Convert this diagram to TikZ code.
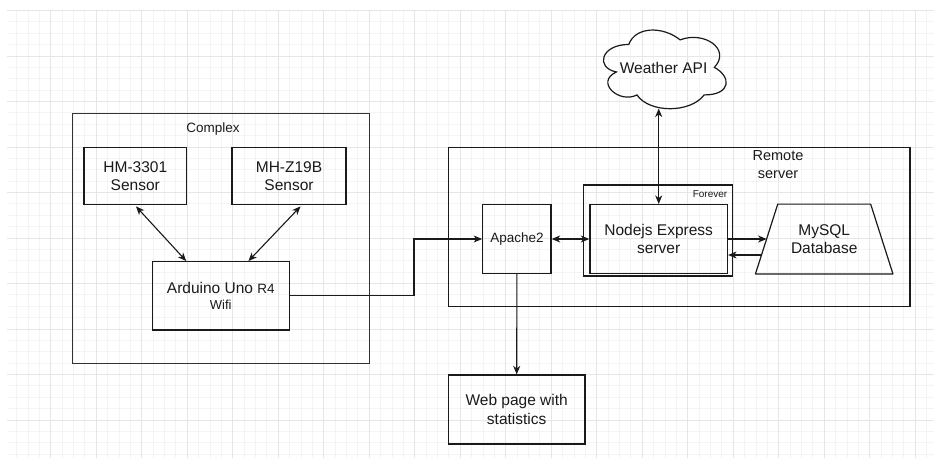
\documentclass[tikz,border=0pt]{standalone}
\usepackage{fontspec}
\setmainfont{Liberation Sans}
\usetikzlibrary{arrows.meta,calc}
\definecolor{ink}{HTML}{1A1A1A}
\definecolor{gminor}{HTML}{F4F4F4}
\definecolor{gmajor}{HTML}{E6E6E6}
\tikzset{
  box/.style={draw=ink,line width=1.2pt,rectangle,inner sep=0pt,align=center,text=ink,
    font=\fontsize{15.5}{18.5}\selectfont},
  txt/.style={box,draw=none},
  lbl/.style={inner sep=0pt,align=center,text=ink},
  conn/.style={draw=ink,line width=1.1pt},
  tip/.style={-{Stealth[length=8.5pt,width=7pt,inset=2.5pt]}},
  tips/.style={{Stealth[length=8.5pt,width=7pt,inset=2.5pt]}-{Stealth[length=8.5pt,width=7pt,inset=2.5pt]}},
}
\begin{document}
\begin{tikzpicture}[x=1pt,y=-1pt]
\useasboundingbox (0,0) rectangle (934,458);
\fill[white] (0,0) rectangle (934,458);
% grid
\begin{scope}
\clip (7,10) rectangle (934,458);
\foreach \k in {-4,...,78} \draw[gminor,line width=0.8pt] ({50.7+11.375*\k},0) -- ({50.7+11.375*\k},458);
\foreach \k in {0,...,40} \draw[gminor,line width=0.8pt] (0,{10.5+11.375*\k}) -- (934,{10.5+11.375*\k});
\foreach \k in {-1,...,20} \draw[gmajor,line width=0.8pt] ({50.7+45.5*\k},0) -- ({50.7+45.5*\k},458);
\foreach \k in {0,...,10} \draw[gmajor,line width=0.8pt] (0,{10.5+45.5*\k}) -- (934,{10.5+45.5*\k});
\end{scope}

% containers
\node[box,draw=black!80,line width=1.4pt,minimum width=296.6pt,minimum height=250pt] (complex) at (221,238.3) {};
\node[lbl,font=\fontsize{13.5}{16}\selectfont] (complexlbl) at (213,129) {Complex};
\node[box,minimum width=461.7pt,minimum height=159pt] (remote) at (679.2,227.2) {};
\node[lbl,font=\fontsize{14.5}{17.3}\selectfont] (remotelbl) at (778,164.5) {Remote\\server};

% complex content
\node[box,minimum width=102.7pt,minimum height=56.6pt] (hm) at (135.3,176) {HM-3301\\Sensor};
\node[box,minimum width=114pt,minimum height=56.6pt] (mh) at (289,176) {MH-Z19B\\Sensor};
\node[box,minimum width=137pt,minimum height=68.3pt] (ard) at (220.8,295.8)
  {Arduino Uno {\fontsize{13.5}{16}\selectfont R4}\\[-2pt]{\fontsize{13}{16}\selectfont Wifi}};

% remote content
\node[box,minimum width=68.3pt,minimum height=68.6pt,font=\fontsize{13.5}{16}\selectfont] (apache) at (516.9,239) {Apache2};
\node[box,minimum width=148.6pt,minimum height=91pt] (forever) at (658,230.5) {};
\node[lbl,font=\fontsize{10}{12}\selectfont] (foreverlbl) at (710,194) {Forever};
\node[box,line width=1.5pt,minimum width=137.3pt,minimum height=68.6pt] (nodejs) at (658.7,239) {Nodejs Express\\server};
\node[txt,minimum width=136.3pt,minimum height=68.6pt] (mysql) at (824.2,239) {MySQL\\Database};
\draw[ink,line width=1.2pt,line join=round] ($(mysql.north west)+(22.3,0)$) -- ($(mysql.north east)+(-22.3,0)$)
  -- (mysql.south east) -- (mysql.south west) -- cycle;

% external
\node[txt,minimum width=137pt,minimum height=91.8pt] (cloud) at (663.6,68) {Weather API};
\begin{scope}[shift={(cloud.north west)},x=137pt,y=-91.8pt]
\draw[ink,line width=1.2pt] (0.25,0.25) .. controls (0.05,0.25) and (0,0.5) .. (0.16,0.55)
  .. controls (0,0.66) and (0.18,0.9) .. (0.31,0.8)
  .. controls (0.4,1) and (0.7,1) .. (0.8,0.8)
  .. controls (1,0.8) and (1,0.6) .. (0.875,0.5)
  .. controls (1,0.3) and (0.8,0.1) .. (0.625,0.2)
  .. controls (0.5,0.05) and (0.3,0.05) .. (0.25,0.25) -- cycle;
\end{scope}
\coordinate (cloudbot) at ($(cloud.north west)+(63.9,87)$);
\node[box,minimum width=136.7pt,minimum height=69pt] (web) at (516.7,409.5) {Web page with\\statistics};

% connectors
\draw[conn,tips] ($(hm.south west)!0.5!(hm.south east)+(0.7,1.5)$) -- ($(ard.north west)!0.25!(ard.north east)$);
\draw[conn,tips] ($(mh.south west)!0.6!(mh.south east)+(0,1.5)$) -- ($(ard.north west)!0.7!(ard.north east)$);
\coordinate (bend) at (414,239);
\draw[conn,tip] (ard.east) -| (bend) -- (apache.west);
\draw[conn,tips] (apache.east) -- (nodejs.west);
\draw[conn,tip] (nodejs.east) -- ($(mysql.west)+(11.15,0)$);
\draw[conn,tip] ($(mysql.west)+(5.9,16)$) -- ($(nodejs.east)+(0,16)$);
\draw[conn,tips] (nodejs.north) -- (nodejs.north |- cloudbot);
\draw[conn,tip] (apache.south) -- (web.north);
\end{tikzpicture}
\end{document}
